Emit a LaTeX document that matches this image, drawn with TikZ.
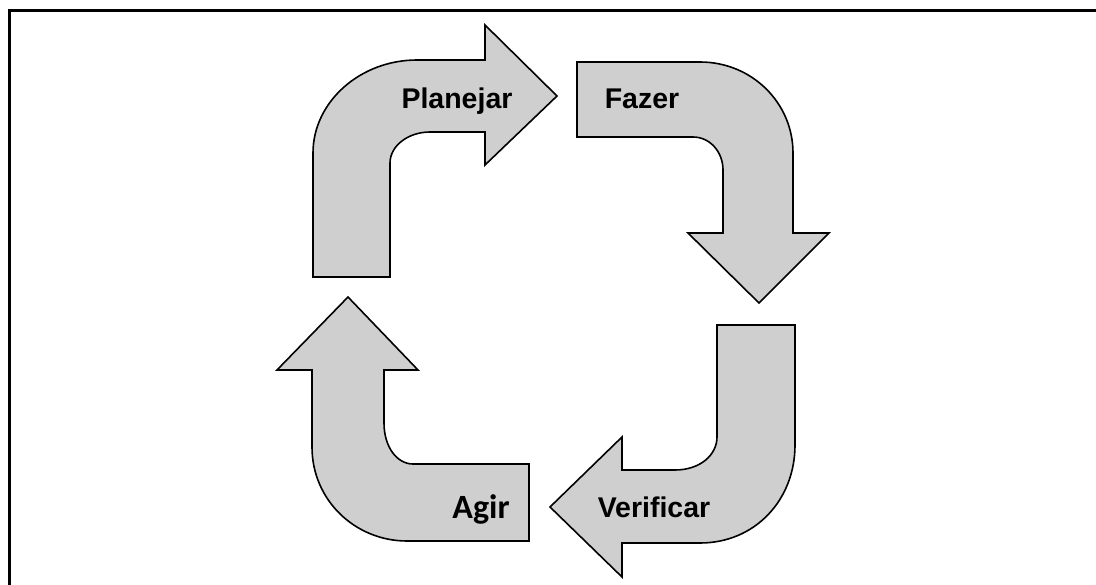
\documentclass[tikz,border=0pt]{standalone}
\usepackage{fontspec}
\newfontfamily\arialfont{Liberation Sans}
\newfontfamily\carlitofont{Carlito}
\definecolor{shapegray}{RGB}{207,207,207}
\tikzset{
  arrowshape/.style={draw=black, line width=1.6pt, fill=shapegray, line join=miter},
  lbl/.style={anchor=base, inner sep=0pt, font=\arialfont\bfseries\fontsize{28.5}{30}\selectfont},
  lblb/.style={anchor=base, inner sep=0pt, font=\carlitofont\bfseries\fontsize{34}{36}\selectfont},
  frame/.style={draw=black, line width=3pt, line join=miter}
}
\begin{document}
\begin{tikzpicture}[x=1pt,y=-1pt]
\useasboundingbox (0,0) rectangle (1096,585);
\draw[frame] (9.5,586) -- (9.5,10.5) -- (1097,10.5);
% Planejar
\draw[arrowshape] (313,277) -- (313,153) .. controls (313,102) and (360,60) .. (417,60)
  -- (485,60) -- (485,25) -- (557,96) -- (485,165) -- (485,132) -- (430,132)
  .. controls (408,132) and (390,146) .. (390,163) -- (390,277) -- cycle;
% Fazer
\draw[arrowshape] (577,62) -- (700,62) .. controls (752,62) and (793,103) .. (793,153)
  -- (793,233) -- (829,233) -- (759,303) -- (688,233) -- (723,233) -- (723,170)
  .. controls (723,152) and (710,137) .. (693,137) -- (577,137) -- cycle;
% Verificar
\draw[arrowshape] (717,325) -- (795,325) -- (795,445) .. controls (795,500) and (755,543) .. (700,543)
  -- (622,543) -- (622,577) -- (550,507) -- (622,437) -- (622,470) -- (675,470)
  .. controls (700,470) and (717,455) .. (717,437) -- cycle;
% Agir
\draw[arrowshape] (348,297) -- (418,370) -- (384,370) -- (384,423)
  .. controls (384,447) and (397,464) .. (413,464) -- (529,464) -- (529,541) -- (407,541)
  .. controls (355,541) and (312,500) .. (312,447) -- (312,370) -- (277,370) -- cycle;
\node[lbl] (planejar) at (457,109) {Planejar};
\node[lbl] (fazer) at (642,109) {Fazer};
\node[lbl] (verificar) at (654,517) {Verificar};
\node[lblb] (agir) at (481,518) {Agir};
\end{tikzpicture}
\end{document}
